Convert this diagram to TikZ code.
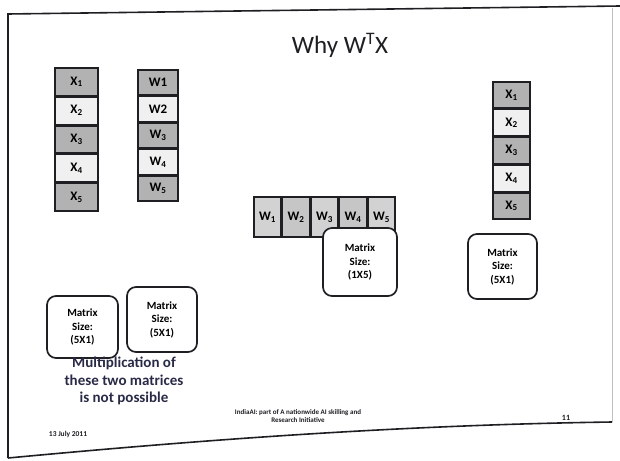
\documentclass[tikz,border=0pt]{standalone}
\usepackage{fontspec}
\setmainfont{Carlito}
\usepackage{tikz}
\usetikzlibrary{positioning}

\definecolor{slideink}{RGB}{30,30,35}
\definecolor{noteblue}{RGB}{40,42,70}

\tikzset{
  cell/.style={draw=slideink, line width=1.5pt, inner sep=0pt, font=\bfseries\fontsize{13}{14}\selectfont},
  darkcell/.style={cell, fill=gray!60},
  lightcell/.style={cell, fill=gray!12},
  colcell/.style={minimum width=43pt, minimum height=27.4pt},
  wcell/.style={minimum width=40pt, minimum height=25pt},
  rowcell/.style={minimum width=27pt, minimum height=40pt},
  rcell/.style={minimum width=37pt, minimum height=26.2pt},
  sizebox/.style={draw=slideink, line width=1.7pt, rounded corners=9pt, fill=white,
                  align=center, font=\bfseries\fontsize{11}{13.5}\selectfont, inner sep=2pt},
}

\begin{document}
\begin{tikzpicture}[x=1pt, y=-1pt]
\useasboundingbox (0,0) rectangle (620,460);

% slide edges
\draw[slideink, line width=1.6pt] (8,458) -- (8,14) -- (620,6);
\draw[slideink, line width=1.6pt] (8,458) .. controls (200,440) and (400,425) .. (612,422);
\draw[gray!50, line width=1pt] (612,8) -- (612,422);

% title
\node[font=\fontsize{25}{28}\selectfont, text=slideink] (title) at (340,45) {Why W\textsuperscript{T}X};

% left X column
\node[darkcell, colcell]  (lx1) at (76.5,81.7) {X\textsubscript{1}};
\node[lightcell, colcell, below=0pt of lx1] (lx2) {X\textsubscript{2}};
\node[darkcell, colcell, below=0pt of lx2]  (lx3) {X\textsubscript{3}};
\node[lightcell, colcell, below=0pt of lx3] (lx4) {X\textsubscript{4}};
\node[darkcell, colcell, below=0pt of lx4]  (lx5) {X\textsubscript{5}};

% left W column
\node[darkcell, wcell]  (lw1) at (158,82.5) {W1};
\node[lightcell, wcell, below=0pt of lw1] (lw2) {W2};
\node[darkcell, wcell, below=0pt of lw2]  (lw3) {W\textsubscript{3}};
\node[lightcell, wcell, below=0pt of lw3] (lw4) {W\textsubscript{4}};
\node[darkcell, wcell, below=0pt of lw4]  (lw5) {W\textsubscript{5}};

% W transposed row
\node[lightcell, rowcell, fill=gray!35] (rw1) at (267.5,217) {W\textsubscript{1}};
\node[lightcell, rowcell, fill=gray!45, right=0pt of rw1] (rw2) {W\textsubscript{2}};
\node[lightcell, rowcell, fill=gray!35, right=0pt of rw2] (rw3) {W\textsubscript{3}};
\node[lightcell, rowcell, fill=gray!45, right=0pt of rw3] (rw4) {W\textsubscript{4}};
\node[lightcell, rowcell, fill=gray!35, right=0pt of rw4] (rw5) {W\textsubscript{5}};

% right X column
\node[darkcell, rcell]  (rx1) at (511.5,95.1) {X\textsubscript{1}};
\node[lightcell, rcell, below=0pt of rx1] (rx2) {X\textsubscript{2}};
\node[darkcell, rcell, below=0pt of rx2]  (rx3) {X\textsubscript{3}};
\node[lightcell, rcell, below=0pt of rx3] (rx4) {X\textsubscript{4}};
\node[darkcell, rcell, below=0pt of rx4]  (rx5) {X\textsubscript{5}};

% size boxes
\node[sizebox, minimum width=74pt, minimum height=68pt] (rowsize) at (360,262) {Matrix\\Size:\\(1X5)};
\node[sizebox, minimum width=69pt, minimum height=65pt] (rsize) at (502.5,266.5) {Matrix\\Size:\\(5X1)};
\node[sizebox, minimum width=71pt, minimum height=62pt] (xsize) at (82.5,327) {Matrix\\Size:\\(5X1)};
\node[sizebox, minimum width=70pt, minimum height=65pt] (wsize) at (162,319.5) {Matrix\\Size:\\(5X1)};

% note and footer
\node[font=\bfseries\fontsize{15}{17.5}\selectfont, text=noteblue, align=center] (note) at (124,381)
  {Multiplication of\\these two matrices\\is not possible};
\node[font=\bfseries\fontsize{7}{8}\selectfont, text=slideink, align=center] (foot) at (298,416)
  {IndiaAI: part of A nationwide AI skilling and\\Research Initiative};
\node[font=\bfseries\fontsize{7.5}{8}\selectfont, text=slideink] (date) at (68,434) {13 July 2011};
\node[font=\bfseries\fontsize{8}{8}\selectfont, text=slideink] (page) at (566,418) {11};
\end{tikzpicture}
\end{document}
